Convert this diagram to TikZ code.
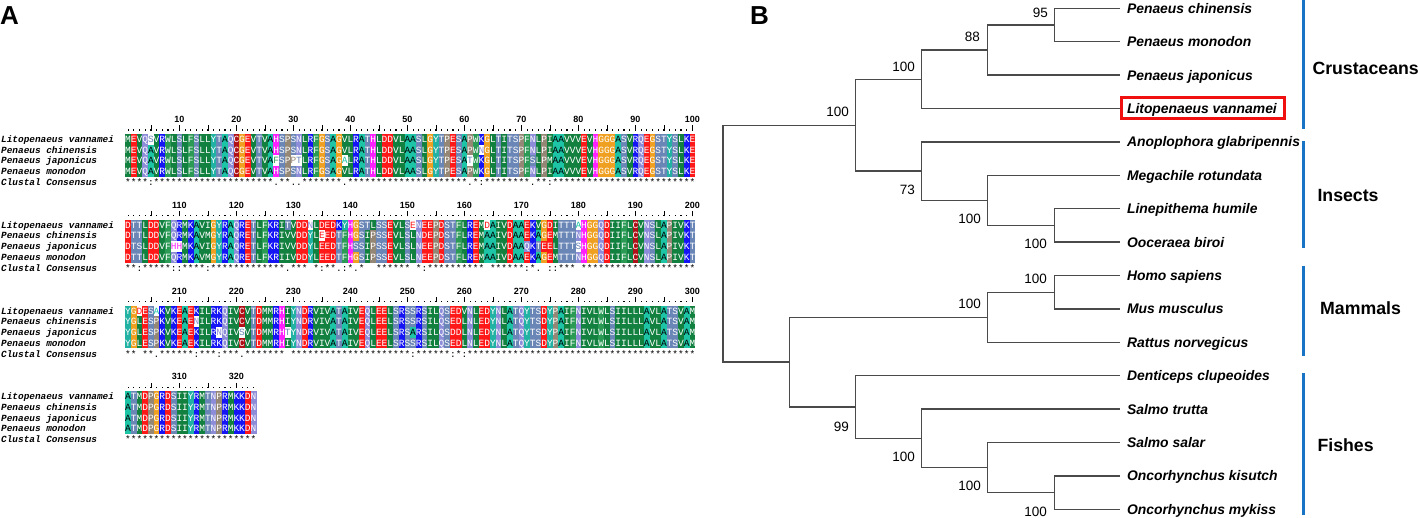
\documentclass[tikz,border=0pt]{standalone}
\usepackage{fontspec}
\setmainfont{Liberation Sans}
\newfontfamily\monof{Liberation Mono}
\definecolor{rcA}{HTML}{1EC4A6}
\definecolor{rcY}{HTML}{22B2A4}
\definecolor{rcG}{HTML}{F0A020}
\definecolor{rcP}{HTML}{958775}
\definecolor{rcS}{HTML}{6A86B6}
\definecolor{rcT}{HTML}{6A86B6}
\definecolor{rcN}{HTML}{8C8CD8}
\definecolor{rcQ}{HTML}{8C8CD8}
\definecolor{rcD}{HTML}{FF1818}
\definecolor{rcE}{HTML}{FF1818}
\definecolor{rcK}{HTML}{1414F5}
\definecolor{rcR}{HTML}{1414F5}
\definecolor{rcH}{HTML}{FF20FF}
\definecolor{rcC}{HTML}{B01018}
\definecolor{rcM}{HTML}{12803F}
\definecolor{rcL}{HTML}{12803F}
\definecolor{rcI}{HTML}{12803F}
\definecolor{rcV}{HTML}{12803F}
\definecolor{rcF}{HTML}{2A9A55}
\definecolor{rcW}{HTML}{2A9A55}
\definecolor{treegray}{HTML}{4A4A4A}
\definecolor{barblue}{HTML}{1873C4}
\definecolor{boxred}{HTML}{F01010}
\newcount\rescol
\def\xs{125.2}
\def\cw{5.7}
\def\seqrow#1#2{\def\sy{#1}\rescol=0 \seqloop#2\relax}
\def\seqloop#1{\ifx#1\relax\else\putres{#1}\advance\rescol by 1 \expandafter\seqloop\fi}
\def\putres#1{%
  \ifnum`#1>`Z\relax
    \uppercase{\def\tmpL{#1}}\def\bgc{white}\edef\fgc{rc\tmpL}%
  \else
    \def\tmpL{#1}\edef\bgc{rc#1}%
    \if A#1\def\fgc{black}\else\def\fgc{white}\fi
  \fi
  \pgfmathsetmacro\cx{\xs+\the\rescol*\cw}%
  \fill[fill=\bgc] (\cx,\sy-5.335) rectangle ++(\cw+0.25,10.9);
  \node[res,text=\fgc] at (\cx+2.85,\sy+3.1) {\tmpL};%
}
\def\consrow#1#2{\def\sy{#1}\rescol=0 \consloop#2\relax}
\def\consloop#1{\ifx#1\relax\else\putcons{#1}\advance\rescol by 1 \expandafter\consloop\fi}
\def\putcons#1{\if-#1\else\pgfmathsetmacro\cx{\xs+(\the\rescol+0.5)*\cw}\node[cons] at (\cx,\sy+3.2) {#1};\fi}
\newcommand\drawruler[3]{%
  \foreach \c in {1,...,#2}{\fill ({\xs+(\c-0.5)*\cw-0.55},{#1-0.6}) rectangle ++(1.1,1.2);}
  \foreach \c in {5,10,...,#2}{\draw[line width=0.7pt] ({\xs+(\c-0.5)*\cw},{#1+0.6}) -- ++(0,-5.2);}
  \foreach \c in {10,20,...,#2}{\pgfmathtruncatemacro\lab{#3+\c}\node[rnum] at ({\xs+(\c-0.5)*\cw},{#1-10.5}) {\lab};}
}
\newcommand\drawnames[1]{%
  \node[seqname] at (1,#1+3.1) {Litopenaeus vannamei};
  \node[seqname] at (1,#1+13.77) {Penaeus chinensis};
  \node[seqname] at (1,#1+24.44) {Penaeus japonicus};
  \node[seqname] at (1,#1+35.11) {Penaeus monodon};
  \node[seqname] at (1,#1+46.1) {Clustal Consensus};
}
\tikzset{
  res/.style={font=\monof\fontsize{9.5}{10}\selectfont, inner sep=0pt, anchor=base},
  cons/.style={font=\monof\fontsize{9.5}{10}\selectfont, inner sep=0pt, anchor=base},
  seqname/.style={font=\monof\bfseries\itshape\fontsize{9.4}{10}\selectfont, inner sep=0pt, anchor=base west},
  rnum/.style={font=\bfseries\fontsize{9}{9}\selectfont, inner sep=0pt, anchor=center},
  panel/.style={font=\bfseries\fontsize{26}{26}\selectfont, inner sep=0pt, anchor=west},
  tree/.style={draw=treegray, line width=1.3pt},
  leaf/.style={font=\bfseries\itshape\fontsize{13.9}{14}\selectfont, inner sep=0pt, anchor=base west},
  bs/.style={font=\fontsize{13.5}{14}\selectfont, inner sep=0pt, anchor=east},
  grp/.style={font=\bfseries\fontsize{17.7}{18}\selectfont, inner sep=0pt, anchor=west},
  bar/.style={draw=barblue, line width=3.8pt},
}
\begin{document}
\begin{tikzpicture}[x=1pt,y=-1pt]
\useasboundingbox (0,0) rectangle (1418,517);
\fill[white] (0,0) rectangle (1418,517);
% ---------------- panel A ----------------
\node[panel] (pa) at (0,16) {A};
% block 1
\drawruler{130}{100}{0}
\drawnames{139.3}
\seqrow{139.3}{MEVQsVRWLS LFSLLYTAQC GEVTVAHSPS NLRFGSAGVL RATHLDDVLA ASLGYTPESA PWKGLTITSP FNLPIAAVVV EVHGGGASVR QEGSTYSLKE}
\seqrow{149.97}{MEVQAVRWLS LFSLLYTAQC GEVTVAHSPS NLRFGSAGVL RATHLDDVLA ASLGYTPESA PWnGLTITSP FNLPIAAVVV EVHGGGASVR QEGSTYSLKE}
\seqrow{160.64}{MEVQAVRWLS LFSLLYTAQC GEVTVAfSPp tLRFGSAGaL RATHLDDVLA ASLGYTPESA tWKGLTITSP FSLPMAAVVV EVHGGGASVR QEGSTYSLKE}
\seqrow{171.31}{MEVQAVRWLS LFSLLYTAQC GEVTVAHSPS NLRFGSAGVL RATHLDDVLA ASLGYTPESA PWKGLTITSP FNLPIAAVVV EVHGGGASVR QEGSTYSLKE}
\consrow{182.3}{****:***** ********** ******.**. .*******.* ********** ********** .*:******* *.**:***** ********** **********}
% block 2
\drawruler{215.8}{100}{100}
\drawnames{225.1}
\seqrow{225.1}{DTTLDDVFQR MKAVIGYRAQ RETLFKRITV DDnLDEDKYH GSTLSSEVLS eNEEPDSTFL REMdAIVDAA EKVGDITTTa HGGQDIIFLC VNSLAPIVKT}
\seqrow{235.77}{DTTLDDVFQR MKAVMGYRAQ RETLFKRIVV DDYLeEDTFH GSIPSSEVLS LNDEPDSTFL REMAAIVDAA EKAGEMTTTN HGGQDIIFLC VNSLAPIVKT}
\seqrow{246.44}{DTSLDDVFhh MKAVIGYRAQ RETLFKRIVV DDYLEEDTFH SSIPSSEVLS LNEEPDSTFL REMAAIVDAA QKTEELTTTs HGGQDIIFLC VNSLAPIVKT}
\seqrow{257.11}{DTTLDDVFQR MKAVMGYRAQ RETLFKRIIV DDYLEEDTFH GSIPSSEVLS LNEEPDSTFL REMAAIVDAA EKAGEMTTTN HGGQDIIFLC VNSLAPIVKT}
\consrow{268.1}{**:*****:: ****:***** ********.* **-*:**.:* .*--****** -*:******* ***-****** :*.-::***- ********** **********}
% block 3
\drawruler{301.6}{100}{200}
\drawnames{310.9}
\seqrow{310.9}{YGdESaKVKE AEKILRKQIV CVTDMMRHIY NDRVIVATAI VEQLEELSRS SRSILQSEDV NLEDYNLATQ YTSDYPAIFN IVLWLSIILL LAVLATSVAM}
\seqrow{321.57}{YGLESPKVKE AEnILRKQIV CVTDMMRHIY NDRVIVATAI VEQLEELSRS SRSILQSEDL NLEDYNLATQ YTSDYPAIFN IVLWLSIILL LAVLATSVAM}
\seqrow{332.24}{YGLESPKVKE AEKILRnQIV sVTDMMRHtY NDRVIVATAI VEQLEELSRS ARSILQSDDL NLEDYNLATQ YTSDYPAIFN IVLWLSIILL LAVLATSVAM}
\seqrow{342.91}{YGLESPKVKE AEKILRKQIV CVTDMMRHIY NDRVIVATAI VEQLEELSRS SRSILQSEDL NLEDYNLATQ YTSDYPAIFN IVLWLSIILL LAVLATSVAM}
\consrow{353.9}{**-**.**** **:***:*** .*******-* ********** ********** :******:*: ********** ********** ********** **********}
% block 4
\drawruler{387.4}{23}{300}
\drawnames{396.7}
\seqrow{396.7}{ATMDPGRDSI IYRMTNPRMK KDN}
\seqrow{407.37}{ATMDPGRDSI IYRMTNPRMK KDN}
\seqrow{418.04}{ATMDPGRDSI IYRMTNPRMK KDN}
\seqrow{428.71}{ATMDPGRDSI IYRMTNPRMK KDN}
\consrow{439.7}{********** ********** ***}
% ---------------- panel B ----------------
\node[panel] (pb) at (750,16) {B};
% leaf tips
\coordinate (t0) at (1120,8.3);
\coordinate (t1) at (1120,41.7);
\coordinate (t2) at (1120,75.1);
\coordinate (t3) at (1120,108.5);
\coordinate (t4) at (1120,141.9);
\coordinate (t5) at (1120,175.3);
\coordinate (t6) at (1120,208.7);
\coordinate (t7) at (1120,242.1);
\coordinate (t8) at (1120,275.5);
\coordinate (t9) at (1120,308.9);
\coordinate (t10) at (1120,342.3);
\coordinate (t11) at (1120,375.7);
\coordinate (t12) at (1120,409.1);
\coordinate (t13) at (1120,442.5);
\coordinate (t14) at (1120,475.9);
\coordinate (t15) at (1120,509.3);
% internal nodes
\coordinate (n95) at (1054.4,25.0);
\coordinate (n88) at (987.2,50.05);
\coordinate (nCr) at (921.2,79.3);
\coordinate (nLO) at (1054.4,225.4);
\coordinate (nMLO) at (987.2,200.35);
\coordinate (nIn) at (921.2,171.1);
\coordinate (nCI) at (855.2,125.2);
\coordinate (nHM) at (1054.4,292.2);
\coordinate (nHMR) at (987.2,317.25);
\coordinate (nOK) at (1054.4,492.6);
\coordinate (nSS) at (987.2,467.55);
\coordinate (nST) at (921.2,438.3);
\coordinate (nD) at (855.2,407.0);
\coordinate (nMF) at (789.6,362.1);
\coordinate (root) at (723,243.65);
% branches
\draw[tree] (root) |- (nCI);
\draw[tree] (root) |- (nMF);
\draw[tree] (nCI) |- (nCr);
\draw[tree] (nCI) |- (nIn);
\draw[tree] (nCr) |- (n88);
\draw[tree] (nCr) |- (t3);
\draw[tree] (n88) |- (n95);
\draw[tree] (n88) |- (t2);
\draw[tree] (n95) |- (t0);
\draw[tree] (n95) |- (t1);
\draw[tree] (nIn) |- (t4);
\draw[tree] (nIn) |- (nMLO);
\draw[tree] (nMLO) |- (t5);
\draw[tree] (nMLO) |- (nLO);
\draw[tree] (nLO) |- (t6);
\draw[tree] (nLO) |- (t7);
\draw[tree] (nMF) |- (nHMR);
\draw[tree] (nMF) |- (nD);
\draw[tree] (nHMR) |- (nHM);
\draw[tree] (nHMR) |- (t10);
\draw[tree] (nHM) |- (t8);
\draw[tree] (nHM) |- (t9);
\draw[tree] (nD) |- (t11);
\draw[tree] (nD) |- (nST);
\draw[tree] (nST) |- (t12);
\draw[tree] (nST) |- (nSS);
\draw[tree] (nSS) |- (t13);
\draw[tree] (nSS) |- (nOK);
\draw[tree] (nOK) |- (t14);
\draw[tree] (nOK) |- (t15);
% leaf labels
\node[leaf] (l0) at (1126.8,13.3) {Penaeus chinensis};
\node[leaf] (l1) at (1126.8,46.7) {Penaeus monodon};
\node[leaf] (l2) at (1126.8,80.1) {Penaeus japonicus};
\node[leaf] (l3) at (1126.8,113.5) {Litopenaeus vannamei};
\node[leaf] (l4) at (1126.8,146.9) {Anoplophora glabripennis};
\node[leaf] (l5) at (1126.8,180.3) {Megachile rotundata};
\node[leaf] (l6) at (1126.8,213.7) {Linepithema humile};
\node[leaf] (l7) at (1126.8,247.1) {Ooceraea biroi};
\node[leaf] (l8) at (1126.8,280.5) {Homo sapiens};
\node[leaf] (l9) at (1126.8,313.9) {Mus musculus};
\node[leaf] (l10) at (1126.8,347.3) {Rattus norvegicus};
\node[leaf] (l11) at (1126.8,380.7) {Denticeps clupeoides};
\node[leaf] (l12) at (1126.8,414.1) {Salmo trutta};
\node[leaf] (l13) at (1126.8,447.5) {Salmo salar};
\node[leaf] (l14) at (1126.8,480.9) {Oncorhynchus kisutch};
\node[leaf] (l15) at (1126.8,514.3) {Oncorhynchus mykiss};
% highlight box
\draw[boxred, line width=3pt] (1121.9,97.5) rectangle (1284.2,118.3);
% bootstrap values
\node[bs] (b95) at (1048,12.7) {95};
\node[bs] (b88) at (980,37) {88};
\node[bs] (bcr) at (915,66.7) {100};
\node[bs] (bci) at (849,111.7) {100};
\node[bs] (b73) at (915,190) {73};
\node[bs] (bmlo) at (981,219) {100};
\node[bs] (blo) at (1047,244.3) {100};
\node[bs] (bhm) at (1047,279) {100};
\node[bs] (bhmr) at (981,304.3) {100};
\node[bs] (b99) at (849,426.7) {99};
\node[bs] (bst) at (915,456.7) {100};
\node[bs] (bss) at (981,486) {100};
\node[bs] (bok) at (1047,511.7) {100};
% group bars
\coordinate (c1a) at (1303.5,0);
\coordinate (c1b) at (1303.5,129.3);
\coordinate (c2a) at (1303.5,141);
\coordinate (c2b) at (1303.5,248.3);
\coordinate (c3a) at (1303.5,265.7);
\coordinate (c3b) at (1303.5,356);
\coordinate (c4a) at (1303.5,373.3);
\coordinate (c4b) at (1303.5,515);
\draw[bar] (c1a) -- (c1b);
\draw[bar] (c2a) -- (c2b);
\draw[bar] (c3a) -- (c3b);
\draw[bar] (c4a) -- (c4b);
\node[grp] (g1) at (1312.3,68.3) {Crustaceans};
\node[grp] (g2) at (1317.3,195) {Insects};
\node[grp] (g3) at (1320,308) {Mammals};
\node[grp] (g4) at (1317.3,445) {Fishes};
\end{tikzpicture}
\end{document}
